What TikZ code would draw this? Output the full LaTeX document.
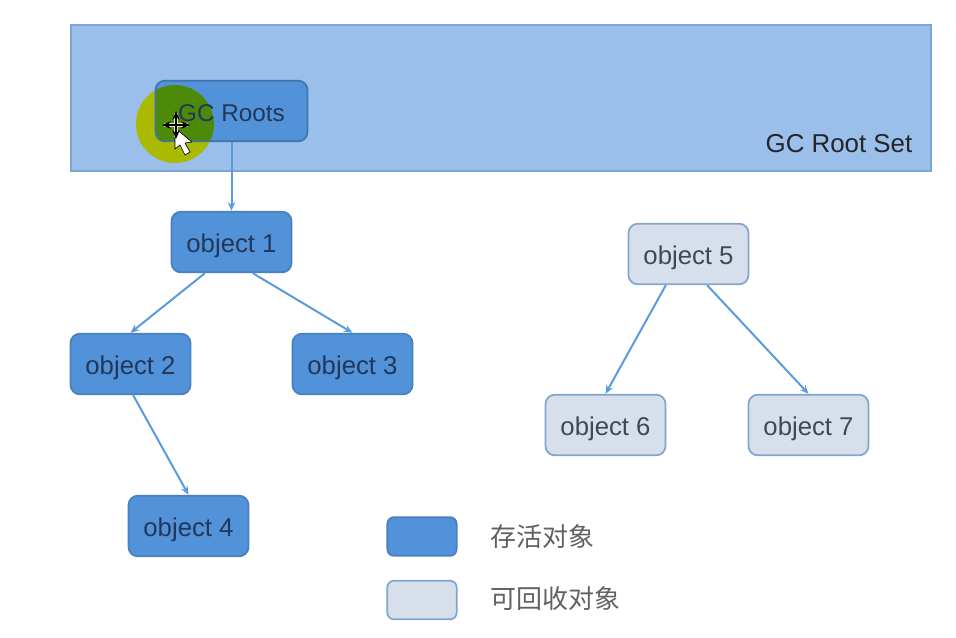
\documentclass[tikz,border=0pt]{standalone}
\usepackage{fontspec}
\setmainfont{Liberation Sans}
\newfontfamily\cjk{Noto Sans CJK SC}
\usetikzlibrary{arrows.meta}

\definecolor{setfill}{RGB}{155,191,235}
\definecolor{setline}{RGB}{125,165,210}
\definecolor{livefill}{RGB}{82,146,216}
\definecolor{liveline}{RGB}{72,128,192}
\definecolor{livetext}{RGB}{35,55,90}
\definecolor{deadfill}{RGB}{216,223,236}
\definecolor{deadline}{RGB}{130,165,205}
\definecolor{deadtext}{RGB}{65,72,85}
\definecolor{edgeblue}{RGB}{90,155,220}
\definecolor{spotout}{RGB}{170,186,0}
\definecolor{spotin}{RGB}{78,138,10}
\definecolor{moveline}{RGB}{240,226,190}

\begin{document}
\begin{tikzpicture}[x=0.75pt,y=-0.75pt,>={Stealth[length=6.5pt,width=5.5pt]},font=\fontsize{19.3pt}{22pt}\selectfont,
		base node/.style={rectangle,rounded corners=7pt,line width=1.3pt,minimum width=90pt,minimum height=45.5pt,inner sep=0pt,text height=15.5pt,text depth=0pt},
		live node/.style={base node,draw=liveline,fill=livefill,text=livetext},
		dead node/.style={base node,draw=deadline,fill=deadfill,text=deadtext},
		legend text/.style={font=\cjk\fontsize{19.5pt}{22pt}\selectfont,text=black!62,anchor=west},
		link/.style={->,color=edgeblue,line width=1.5pt}]
		\useasboundingbox (0,0) rectangle (956,637);
		% GC Root Set
		\node[draw=setline,fill=setfill,line width=1.3pt,minimum width=645.5pt,minimum height=110pt,inner sep=0pt] (rootset) at (501,98) {};
		\node[text=black!85,anchor=east,font=\fontsize{19.4pt}{22pt}\selectfont] (rootsetlabel) at (917,144) {GC Root Set};
		% 鼠标光圈
		\coordinate (spot) at (175,124);
		\fill[spotout] (spot) circle (39);
		\node[live node,draw=liveline!90!black,minimum width=114pt,font=\fontsize{18.2pt}{22pt}\selectfont,path picture={\fill[spotin] (spot) circle (39);}] (roots) at (231.5,111) {GC Roots};
		% 存活对象
		\node[live node] (obj1) at (231.5,242) {object 1};
		\node[live node] (obj2) at (130.5,364) {object 2};
		\node[live node] (obj3) [right of= obj2,node distance=166.5pt] {object 3};
		\node[live node] (obj4) at (188.5,526) {object 4};
		% 可回收对象
		\node[dead node] (obj5) at (688.5,254) {object 5};
		\node[dead node] (obj6) at (605.5,425) {object 6};
		\node[dead node] (obj7) [right of= obj6,node distance=152.25pt] {object 7};
		% 图例
		\node[live node,minimum width=52pt,minimum height=29pt,rounded corners=5pt] (key1) at (422,536.5) {};
		\node[dead node,minimum width=52pt,minimum height=29pt,rounded corners=5pt] (key2) at (422,600) {};
		\node[legend text] (key1text) at (486,537) {存活对象};
		\node[legend text] (key2text) at (486,599) {可回收对象};
		
		\path
		(roots) edge[link] (obj1)
		([xshift=-20pt]obj1.south) edge[link] (obj2.north)
		([xshift=16pt]obj1.south) edge[link] (obj3.north)
		([xshift=2pt]obj2.south) edge[link] (obj4.north)
		([xshift=-17pt]obj5.south) edge[link] (obj6.north)
		([xshift=14pt]obj5.south) edge[link] (obj7.north);
		
		% 鼠标指针
		\draw[black,fill=white,line width=.5pt,line join=round] (175,128) -- (175,149) -- (180,145) -- (185,155) -- (190,152) -- (185,143) -- (192,142) -- cycle;
		\draw[moveline,line width=3.5pt] (164,125) -- (188,125) (176,113) -- (176,137);
		\draw[black,line width=1.3pt,<->] (162,125) -- (190,125);
		\draw[black,line width=1.3pt,<->] (176,111) -- (176,139);
		\end{tikzpicture}
\end{document}
